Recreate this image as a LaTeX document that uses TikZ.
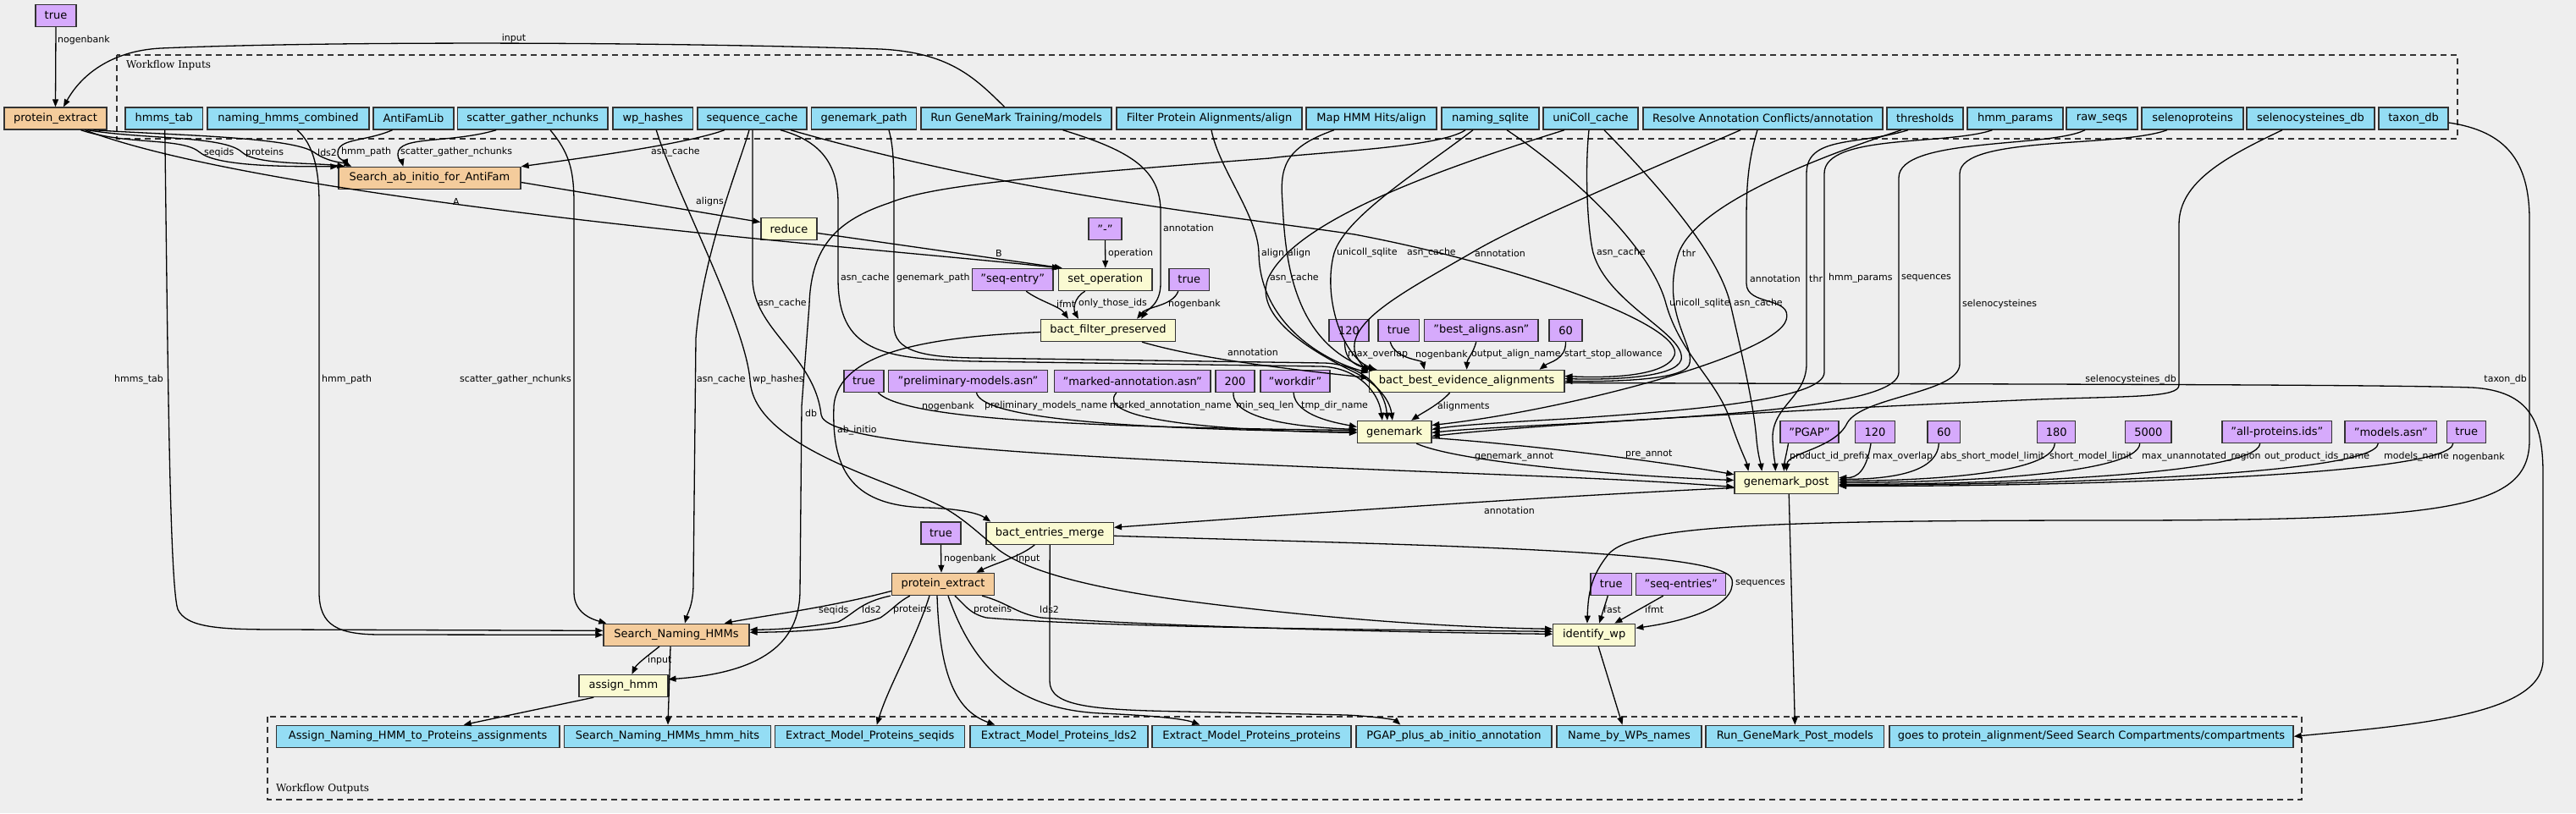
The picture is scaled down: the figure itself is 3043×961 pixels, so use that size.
\documentclass[tikz,border=0pt]{standalone}
\usepackage{fontspec}
\setmainfont{DejaVu Sans}
\newfontfamily\wfserif{DejaVu Serif}
\usetikzlibrary{arrows.meta,calc}
\definecolor{bg}{RGB}{238,238,238}
\definecolor{cin}{RGB}{148,221,244}
\definecolor{cpar}{RGB}{214,170,252}
\definecolor{cstep}{RGB}{250,250,210}
\definecolor{csub}{RGB}{244,204,156}
\definecolor{cbord}{RGB}{51,51,51}
\begin{document}
\begin{tikzpicture}[x=1pt,y=-1pt]
\tikzset{
 nbox/.style={draw=cbord, line width=1.4pt, minimum height=26pt, inner sep=0pt, font=\fontsize{13}{15}\selectfont, anchor=center},
 nin/.style={nbox, fill=cin},
 npar/.style={nbox, fill=cpar},
 nstep/.style={nbox, fill=cstep},
 nsub/.style={nbox, fill=csub},
 nout/.style={nbox, fill=cin},
 edg/.style={draw=black, line width=1.3pt, -{Triangle[length=9pt,width=7pt]}},
 lbl/.style={font=\fontsize{11}{13}\selectfont, inner sep=0pt, anchor=west},
 clus/.style={draw=cbord, line width=1.5pt, dash pattern=on 7pt off 5pt},
 clbl/.style={font=\wfserif\fontsize{12}{14}\selectfont, inner sep=0pt, anchor=west},
}
\fill[bg] (0,0) rectangle (3043,961);
\useasboundingbox (0,0) rectangle (3043,961);
% clusters
\draw[clus] (138,65) rectangle (2903,164);
\node[clbl] (cin) at (149,77) {Workflow Inputs};
\draw[clus] (316,847) rectangle (2719,945);
\node[clbl] (cout) at (326,932) {Workflow Outputs};
% input nodes
\node[npar, minimum width=48pt] (true0) at (66,18.5) {true};
\node[nsub, minimum width=121pt] (pe1) at (65.5,140) {protein\_extract};
\node[nin, minimum width=91.5pt] (in_hmms) at (193.75,140) {hmms\_tab};
\node[nin, minimum width=191pt] (in_nhc) at (340.5,140) {naming\_hmms\_combined};
\node[nin, minimum width=95pt] (in_afl) at (488.5,140) {AntiFamLib};
\node[nin, minimum width=177.5pt] (in_sgn) at (629.25,140) {scatter\_gather\_nchunks};
\node[nin, minimum width=94.5pt] (in_wph) at (771.25,140) {wp\_hashes};
\node[nin, minimum width=129pt] (in_seq) at (888.5,140) {sequence\_cache};
\node[nin, minimum width=124pt] (in_gmp) at (1020.6,140) {genemark\_path};
\node[nin, minimum width=225pt] (in_rgm) at (1200.5,140) {Run GeneMark Training/models};
\node[nin, minimum width=219pt] (in_fpa) at (1428.5,140) {Filter Protein Alignments/align};
\node[nin, minimum width=154pt] (in_map) at (1620,140) {Map HMM Hits/align};
\node[nin, minimum width=115pt] (in_nsq) at (1760.5,140) {naming\_sqlite};
\node[nin, minimum width=112pt] (in_ucc) at (1879,140) {uniColl\_cache};
\node[nin, minimum width=283pt] (in_rac) at (2082.5,140) {Resolve Annotation Conflicts/annotation};
\node[nin, minimum width=90pt] (in_thr) at (2274,140) {thresholds};
\node[nin, minimum width=113pt] (in_hmp) at (2380.5,140) {hmm\_params};
\node[nin, minimum width=84pt] (in_raw) at (2483,140) {raw\_seqs};
\node[nin, minimum width=120pt] (in_sel) at (2590,140) {selenoproteins};
\node[nin, minimum width=151pt] (in_scd) at (2729.5,140) {selenocysteines\_db};
\node[nin, minimum width=82pt] (in_tax) at (2851,140) {taxon\_db};
% steps and params
\node[nsub, minimum width=215pt] (sab) at (507.5,210.5) {Search\_ab\_initio\_for\_AntiFam};
\node[nstep, minimum width=66pt] (reduce) at (932,270.5) {reduce};
\node[npar, minimum width=39pt] (pminus) at (1305.5,270.5) {"-"};
\node[nstep, minimum width=110.5pt] (setop) at (1305.75,330.5) {set\_operation};
\node[npar, minimum width=95.5pt] (pseqentry) at (1196.25,330.5) {"seq-entry"};
\node[npar, minimum width=47.6pt] (ptrue1) at (1404.8,330.5) {true};
\node[nstep, minimum width=158.7pt] (bfp) at (1309,390.5) {bact\_filter\_preserved};
\node[npar, minimum width=47pt] (p120a) at (1593.5,390.5) {120};
\node[npar, minimum width=48.6pt] (ptrue2) at (1652.3,390.5) {true};
\node[npar, minimum width=134.4pt] (pbest) at (1749.8,390.5) {"best\_aligns.asn"};
\node[npar, minimum width=39pt] (p60a) at (1849.5,390.5) {60};
\node[npar, minimum width=47.2pt] (ptrue3) at (1020.4,450.5) {true};
\node[npar, minimum width=188pt] (pprelim) at (1143.5,450.5) {"preliminary-models.asn"};
\node[npar, minimum width=184.5pt] (pmarked) at (1337.75,450.5) {"marked-annotation.asn"};
\node[npar, minimum width=46pt] (p200) at (1459,450.5) {200};
\node[npar, minimum width=82pt] (pworkdir) at (1530,450.5) {"workdir"};
\node[nstep, minimum width=230.4pt] (bbe) at (1732.6,450.5) {bact\_best\_evidence\_alignments};
\node[nstep, minimum width=87.2pt] (gm) at (1647.2,510.5) {genemark};
\node[npar, minimum width=69pt] (ppgap) at (2137.5,510.5) {"PGAP"};
\node[npar, minimum width=46.7pt] (p120b) at (2215,510.5) {120};
\node[npar, minimum width=38.6pt] (p60b) at (2296.3,510.5) {60};
\node[npar, minimum width=45pt] (p180) at (2429.25,510.5) {180};
\node[npar, minimum width=54.4pt] (p5000) at (2537.8,510.5) {5000};
\node[npar, minimum width=129.6pt] (pallprot) at (2689.8,510.5) {"all-proteins.ids"};
\node[npar, minimum width=108.7pt] (pmodels) at (2824.3,510.5) {"models.asn"};
\node[npar, minimum width=46pt] (ptrue4) at (2913.75,510.5) {true};
\node[nstep, minimum width=122.5pt] (gmp) at (2110.25,570.5) {genemark\_post};
\node[npar, minimum width=47pt] (ptrue5) at (1111.4,630) {true};
\node[nstep, minimum width=150.3pt] (bem) at (1240.15,630.3) {bact\_entries\_merge};
\node[nsub, minimum width=121pt] (pe2) at (1114,690.5) {protein\_extract};
\node[npar, minimum width=48.6pt] (ptrue6) at (1903.3,690.5) {true};
\node[npar, minimum width=106pt] (pseqentries) at (1985.7,690.5) {"seq-entries"};
\node[nsub, minimum width=172pt] (snh) at (799,750.3) {Search\_Naming\_HMMs};
\node[nstep, minimum width=97pt] (iwp) at (1883.15,750.3) {identify\_wp};
\node[nstep, minimum width=104.8pt] (ah) at (736.4,810.5) {assign\_hmm};
% outputs
\node[nout, minimum width=334.6pt] (o1) at (493.7,870.3) {Assign\_Naming\_HMM\_to\_Proteins\_assignments};
\node[nout, minimum width=243.8pt] (o2) at (788.5,870.3) {Search\_Naming\_HMMs\_hmm\_hits};
\node[nout, minimum width=224pt] (o3) at (1027.75,870.3) {Extract\_Model\_Proteins\_seqids};
\node[nout, minimum width=210pt] (o4) at (1251,870.3) {Extract\_Model\_Proteins\_lds2};
\node[nout, minimum width=235pt] (o5) at (1478.5,870.3) {Extract\_Model\_Proteins\_proteins};
\node[nout, minimum width=231pt] (o6) at (1717.5,870.3) {PGAP\_plus\_ab\_initio\_annotation};
\node[nout, minimum width=171pt] (o7) at (1924.5,870.3) {Name\_by\_WPs\_names};
\node[nout, minimum width=210.7pt] (o8) at (2120.35,870.3) {Run\_GeneMark\_Post\_models};
\node[nout, minimum width=477pt] (o9) at (2470.5,870.3) {goes to protein\_alignment/Seed Search Compartments/compartments};
% ---- edges ----
\draw[edg] (true0.south) -- (pe1.north);
\node[lbl] (l1) at (68,47) {nogenbank};
\draw[edg] ($(in_rgm.north)+(-14,0)$) .. controls (1150,90) and (1120,62) .. (1040,58) .. controls (800,50) and (400,48) .. (190,57) .. controls (130,60) and (95,90) .. ($(pe1.north)+(9.5,0)$);
\node[lbl,anchor=center] (l2) at (607,45) {input};
% pe1 -> sab
\draw[edg] ($(pe1.south)+(30,0)$) .. controls (150,172) and (215,162) .. (236,180) .. controls (255,196) and (330,197) .. (sab.north west);
\node[lbl] (l3) at (241,180) {seqids};
\draw[edg] ($(pe1.south)+(38,0)$) .. controls (170,165) and (265,160) .. (286,180) .. controls (302,195) and (370,192) .. ($(sab.north west)+(8,0)$);
\node[lbl] (l4) at (290,180) {proteins};
\draw[edg] ($(pe1.south)+(45,0)$) .. controls (210,160) and (345,162) .. (371,180) .. controls (388,192) and (405,192) .. ($(sab.north west)+(16,0)$);
\node[lbl] (l5) at (375,180) {lds2};
\draw[edg] ($(in_afl.south)+(-25,0)$) .. controls (430,168) and (398,163) .. (399,182) .. controls (400,190) and (408,190) .. ($(sab.north west)+(12,0)$);
\node[lbl] (l6) at (403,180) {hmm\_path};
\draw[edg] ($(in_sgn.south)+(-43,0)$) .. controls (530,170) and (470,160) .. (470,182) .. controls (470,190) and (475,192) .. ($(sab.north west)+(77,0)$);
\node[lbl] (l7) at (473,180) {scatter\_gather\_nchunks};
\draw[edg] ($(in_seq.south)+(-32.5,0)$) .. controls (810,170) and (700,185) .. (sab.north east);
\node[lbl] (l8) at (769,180) {asn\_cache};
% A, aligns, B, operation
\draw[edg] ($(pe1.south)+(35,0)$) .. controls (200,192) and (400,222) .. (500,236) .. controls (800,278) and (1100,300) .. ($(setop.north west)+(2,0)$);
\node[lbl] (l9) at (535,238) {A};
\draw[edg] ($(sab.east)+(0,5)$) -- ($(reduce.west)+(0,-8)$);
\node[lbl] (l10) at (822,238) {aligns};
\draw[edg] ($(reduce.east)+(0,5)$) -- ($(setop.north west)+(5,0)$);
\node[lbl] (l11) at (1176,299) {B};
\draw[edg] (pminus.south) -- (setop.north);
\node[lbl] (l12) at (1309,299) {operation};
% bfp inputs
\draw[edg] ($(pseqentry.south)+(16,0)$) .. controls (1228,356) and (1252,362) .. ($(bfp.north west)+(33,0)$);
\node[lbl] (l13) at (1248,359) {ifmt};
\draw[edg] ($(setop.south)+(-24,0)$) .. controls (1268,352) and (1268,366) .. ($(bfp.north west)+(45,0)$);
\node[lbl] (l14) at (1274,359) {only\_those\_ids};
\draw[edg] ($(ptrue1.south)+(-13,0)$) .. controls (1385,362) and (1355,362) .. ($(bfp.north east)+(-46,0)$);
\node[lbl] (l15) at (1380,359) {nogenbank};
\draw[edg] ($(in_rgm.south)+(55,0)$) .. controls (1335,178) and (1371,200) .. (1371,250) -- (1371,335) .. controls (1371,360) and (1355,366) .. ($(bfp.north east)+(-41,0)$);
\node[lbl] (l16) at (1374,269) {annotation};
% bfp outputs
\draw[edg] ($(bfp.south east)+(-40,0)$) .. controls (1420,425) and (1530,437) .. ($(bbe.west)+(0,-4)$);
\node[lbl] (l17) at (1450,416) {annotation};
\draw[edg] ($(bfp.west)+(0,2)$) .. controls (1100,398) and (990,415) .. (985,480) .. controls (982,560) and (1010,598) .. (1095,600) .. controls (1130,601) and (1155,606) .. ($(bem.north west)+(6,0)$);
\node[lbl] (l18) at (989,509) {ab\_initio};
% bbe inputs
\draw[edg] ($(in_fpa.south)+(2.5,0)$) .. controls (1440,200) and (1486,255) .. (1487,299) .. controls (1488,380) and (1560,425) .. ($(bbe.west)+(0,-10)$);
\node[lbl] (l19) at (1490,299) {align};
\draw[edg] ($(in_map.south)+(-44,0)$) .. controls (1515,175) and (1512,200) .. (1515,240) .. controls (1518,300) and (1525,400) .. ($(bbe.north west)+(2,0)$);
\node[lbl] (l20) at (1521,299) {align};
\draw[edg] ($(in_nsq.south)+(-20.5,0)$) .. controls (1680,200) and (1590,255) .. (1576,299) .. controls (1562,350) and (1585,420) .. ($(bbe.north west)+(8,0)$);
\node[lbl] (l21) at (1579,299) {unicoll\_sqlite};
\draw[edg] ($(in_seq.south)+(45.5,0)$) .. controls (1200,230) and (1450,255) .. (1600,277) .. controls (1800,315) and (1990,385) .. (1978,420) .. controls (1968,445) and (1900,447) .. ($(bbe.east)+(0,-6)$);
\node[lbl] (l22) at (1662,299) {asn\_cache};
\draw[edg] ($(in_rac.south)+(-26.5,0)$) .. controls (1950,200) and (1800,262) .. (1738,299) .. controls (1650,350) and (1570,390) .. ($(bbe.north west)+(0,3)$);
\node[lbl] (l23) at (1742,299) {annotation};
\draw[edg] ($(in_ucc.south)+(-2,0)$) .. controls (1872,200) and (1875,270) .. (1882,299) .. controls (1900,360) and (1992,395) .. (1986,425) .. controls (1980,447) and (1900,449) .. ($(bbe.east)+(0,-3)$);
\node[lbl] (l24) at (1886,299) {asn\_cache};
\draw[edg] ($(in_thr.south)+(-28,0)$) .. controls (2150,185) and (2005,240) .. (1983,299) .. controls (1960,370) and (2005,410) .. (1995,432) .. controls (1985,450) and (1900,451) .. (bbe.east);
\node[lbl] (l25) at (1987,299) {thr};
\draw[edg] ($(p120a.south)+(-5,0)$) .. controls (1588,428) and (1605,434) .. ($(bbe.north west)+(10,0)$);
\node[lbl] (l26) at (1592,419) {max\_overlap};
\draw[edg] ($(ptrue2.south)+(-10,0)$) .. controls (1648,425) and (1680,425) .. ($(bbe.north west)+(66,0)$);
\node[lbl] (l27) at (1672,419) {nogenbank};
\draw[edg] ($(pbest.south)+(-6,0)$) .. controls (1740,418) and (1733,425) .. (bbe.north);
\node[lbl] (l28) at (1738,419) {output\_align\_name};
\draw[edg] (p60a.south) .. controls (1850,425) and (1830,428) .. ($(bbe.north east)+(-30,0)$);
\node[lbl] (l29) at (1848,419) {start\_stop\_allowance};
% bbe outputs
\draw[edg] ($(bbe.south)+(-20,0)$) .. controls (1700,478) and (1680,488) .. ($(gm.north)+(20,0)$);
\node[lbl] (l30) at (1698,480) {alignments};
\draw[edg] ($(bbe.east)+(0,2)$) .. controls (2300,454) and (2800,454) .. (2920,458) .. controls (2990,462) and (3004,500) .. (3004,560) -- (3004,780) .. controls (3004,845) and (2850,857) .. (o9.east);
% genemark inputs
\draw[edg] ($(in_seq.south)+(33.5,0)$) .. controls (975,168) and (990,200) .. (990,240) -- (990,329) .. controls (990,415) and (1040,424) .. (1150,427) -- (1560,433) .. controls (1600,434) and (1628,460) .. ($(gm.north west)+(30,0)$);
\node[lbl] (l31) at (993,329) {asn\_cache};
\draw[edg] ($(in_gmp.south)+(29.4,0)$) .. controls (1056,175) and (1056,200) .. (1056,240) -- (1056,385) .. controls (1056,415) and (1090,422) .. (1150,423) -- (1565,429) .. controls (1610,431) and (1636,460) .. ($(gm.north west)+(36,0)$);
\node[lbl] (l32) at (1059,329) {genemark\_path};
\draw[edg] ($(in_ucc.south)+(-31,0)$) .. controls (1700,200) and (1530,260) .. (1498,329) .. controls (1478,380) and (1570,425) .. (1600,440) .. controls (1630,455) and (1642,475) .. ($(gm.north west)+(42,0)$);
\node[lbl] (l33) at (1500,329) {asn\_cache};
\draw[edg] ($(ptrue3.south)+(17,0)$) .. controls (1070,497) and (1300,505) .. ($(gm.west)+(0,-2)$);
\node[lbl] (l34) at (1089,480) {nogenbank};
\draw[edg] ($(pprelim.south)+(10,0)$) .. controls (1160,492) and (1300,507) .. (gm.west);
\node[lbl] (l35) at (1163,480) {preliminary\_models\_name};
\draw[edg] ($(pmarked.south)+(-19,0)$) .. controls (1295,492) and (1400,508) .. ($(gm.west)+(0,1)$);
\node[lbl] (l36) at (1311,480) {marked\_annotation\_name};
\draw[edg] ($(p200.south)+(-2,0)$) .. controls (1455,497) and (1540,505) .. ($(gm.west)+(0,-3)$);
\node[lbl] (l37) at (1460,480) {min\_seq\_len};
\draw[edg] ($(pworkdir.south)+(-2,0)$) .. controls (1530,492) and (1580,500) .. ($(gm.west)+(0,-6)$);
\node[lbl] (l38) at (1537,480) {tmp\_dir\_name};
\draw[edg] ($(in_rac.south)+(-6.5,0)$) .. controls (2065,190) and (2063,220) .. (2063,260) -- (2063,335) .. controls (2063,362) and (2118,350) .. (2110,378) .. controls (2098,420) and (1850,485) .. ($(gm.east)+(0,-8)$);
\node[lbl] (l39) at (2067,329) {annotation};
\draw[edg] ($(in_hmp.south)+(-27,0)$) .. controls (2300,172) and (2155,158) .. (2155,205) -- (2155,440) .. controls (2155,472) and (2000,485) .. (1850,495) .. controls (1760,500) and (1720,503) .. ($(gm.east)+(0,-3)$);
\node[lbl] (l40) at (2160,329) {hmm\_params};
\draw[edg] ($(in_raw.south)+(-20,0)$) .. controls (2420,175) and (2243,162) .. (2243,210) -- (2243,440) .. controls (2243,478) and (2050,490) .. (1870,500) .. controls (1770,505) and (1720,508) .. ($(gm.east)+(0,1)$);
\node[lbl] (l41) at (2246,329) {sequences};
\draw[edg] ($(in_scd.south)+(-33.5,0)$) .. controls (2630,185) and (2574,215) .. (2574,265) -- (2574,455) .. controls (2574,470) and (2520,468) .. (2408,472) .. controls (2100,485) and (1800,503) .. ($(gm.east)+(0,5)$);
\node[lbl,anchor=east] (l42) at (2571,449) {selenocysteines\_db};
% genemark_post inputs
\draw[edg] ($(in_thr.south)+(-20,0)$) .. controls (2195,172) and (2134,160) .. (2134,205) -- (2134,430) .. controls (2134,470) and (2092,480) .. (2094,520) .. controls (2095,540) and (2097,548) .. ($(gmp.north west)+(49,0)$);
\node[lbl] (l43) at (2137,329) {thr};
\draw[edg] ($(in_nsq.south)+(19.5,0)$) .. controls (1850,200) and (1950,290) .. (1968,359) .. controls (1985,420) and (2030,450) .. (2045,500) .. controls (2055,530) and (2063,545) .. ($(gmp.north west)+(17,0)$);
\node[lbl] (l44) at (1972,359) {unicoll\_sqlite};
\draw[edg] ($(in_ucc.south)+(16,0)$) .. controls (1960,220) and (2030,300) .. (2044,359) .. controls (2058,420) and (2072,480) .. (2075,520) .. controls (2077,540) and (2080,548) .. ($(gmp.north west)+(33,0)$);
\node[lbl] (l45) at (2048,359) {asn\_cache};
\draw[edg] ($(in_sel.south)+(-30,0)$) .. controls (2500,175) and (2316,160) .. (2315,205) -- (2315,430) .. controls (2315,465) and (2200,468) .. (2182,500) .. controls (2168,530) and (2112,535) .. (gmp.north);
\node[lbl] (l46) at (2318,359) {selenocysteines};
\draw[edg] ($(gm.south)+(26,0)$) .. controls (1720,545) and (1900,562) .. ($(gmp.west)+(0,-3)$);
\node[lbl] (l47) at (1742,540) {genemark\_annot};
\draw[edg] ($(gm.east)+(0,7)$) .. controls (1800,525) and (1960,545) .. ($(gmp.north west)+(0,4)$);
\node[lbl] (l48) at (1920,537) {pre\_annot};
\draw[edg] ($(in_seq.south)+(0.5,0)$) -- (889,330) .. controls (890,390) and (962,420) .. (970,490) .. controls (975,530) and (1300,542) .. (1800,562) .. controls (1950,568) and (2000,572) .. ($(gmp.west)+(0,5)$);
\node[lbl] (l49) at (895,359) {asn\_cache};
\draw[edg] ($(ppgap.south)+(-25,0)$) .. controls (2110,538) and (2108,545) .. ($(gmp.north)+(-3,0)$);
\node[lbl] (l50) at (2114,540) {product\_id\_prefix};
\draw[edg] ($(p120b.south)+(-5,0)$) .. controls (2205,555) and (2195,565) .. ($(gmp.east)+(0,-6)$);
\node[lbl] (l51) at (2212,540) {max\_overlap};
\draw[edg] ($(p60b.south)+(-6,0)$) .. controls (2288,560) and (2230,566) .. ($(gmp.east)+(0,-4)$);
\node[lbl] (l52) at (2292,540) {abs\_short\_model\_limit};
\draw[edg] ($(p180.south)+(-2,0)$) .. controls (2425,562) and (2260,568) .. ($(gmp.east)+(0,-2)$);
\node[lbl] (l53) at (2421,540) {short\_model\_limit};
\draw[edg] ($(p5000.south)+(-10,0)$) .. controls (2525,562) and (2300,570) .. (gmp.east);
\node[lbl] (l54) at (2530,540) {max\_unannotated\_region};
\draw[edg] ($(pallprot.south)+(-20,0)$) .. controls (2665,562) and (2350,572) .. ($(gmp.east)+(0,2)$);
\node[lbl] (l55) at (2675,540) {out\_product\_ids\_name};
\draw[edg] ($(pmodels.south)+(-15,0)$) .. controls (2805,562) and (2400,573) .. ($(gmp.east)+(0,3)$);
\node[lbl] (l56) at (2816,540) {models\_name};
\draw[edg] ($(ptrue4.south)+(-16,0)$) .. controls (2895,562) and (2450,575) .. ($(gmp.east)+(0,4)$);
\node[lbl] (l57) at (2897,540) {nogenbank};
% genemark_post outputs
\draw[edg] ($(gmp.west)+(0,6)$) .. controls (1800,588) and (1500,610) .. ($(bem.east)+(0,-7)$);
\node[lbl] (l58) at (1753,603) {annotation};
\draw[edg] ($(gmp.south)+(3,0)$) -- (o8.north);
% protein_extract 2
\draw[edg] (ptrue5.south) -- ($(pe2.north)+(-2,0)$);
\node[lbl] (l59) at (1115,660) {nogenbank};
\draw[edg] ($(bem.south)+(-18,0)$) .. controls (1205,658) and (1175,666) .. ($(pe2.north east)+(-22,0)$);
\node[lbl] (l60) at (1200,660) {input};
% bem outputs
\draw[edg] ($(bem.east)+(0,3)$) .. controls (1700,645) and (2040,650) .. (2046,685) .. controls (2052,718) and (1985,735) .. ($(iwp.east)+(0,-8)$);
\node[lbl] (l61) at (2050,690) {sequences};
\draw[edg] (bem.south) -- (1240,805) .. controls (1240,835) and (1290,839) .. (1400,841) -- (1590,845) .. controls (1630,847) and (1648,851) .. ($(o6.north west)+(53,0)$);
% pe2 outputs
\draw[edg] ($(pe2.west)+(0,8)$) .. controls (980,718) and (900,728) .. ($(snh.north east)+(-30,0)$);
\node[lbl] (l62) at (967,721) {seqids};
\draw[edg] ($(pe2.south west)+(-1,0)$) .. controls (1015,712) and (1010,725) .. (990,735) .. controls (950,742) and (920,744) .. ($(snh.east)+(0,-6)$);
\node[lbl] (l63) at (1018,720) {lds2};
\draw[edg] ($(pe2.south west)+(22,0)$) .. controls (1060,712) and (1055,720) .. (1040,730) .. controls (1000,745) and (930,747) .. ($(snh.east)+(0,-3)$);
\node[lbl] (l64) at (1055,720) {proteins};
\draw[edg] ($(pe2.south)+(14,0)$) .. controls (1140,715) and (1145,725) .. (1165,730) .. controls (1300,742) and (1700,745) .. ($(iwp.west)+(0,-4)$);
\node[lbl] (l65) at (1150,720) {proteins};
\draw[edg] ($(pe2.south east)+(-15,0)$) .. controls (1190,712) and (1200,725) .. (1230,730) .. controls (1400,742) and (1700,748) .. ($(iwp.west)+(0,-1)$);
\node[lbl] (l66) at (1228,720) {lds2};
\draw[edg] ($(pe2.south)+(-16,0)$) .. controls (1080,760) and (1050,810) .. ($(o3.north)+(8,0)$);
\draw[edg] ($(pe2.south)+(-7,0)$) .. controls (1110,800) and (1130,840) .. ($(o4.north west)+(30,0)$);
\draw[edg] ($(pe2.south)+(6,0)$) .. controls (1150,790) and (1200,838) .. (1300,843) .. controls (1370,846) and (1400,850) .. ($(o5.north west)+(57,0)$);
% identify_wp inputs
\draw[edg] ($(ptrue6.south)+(-4,0)$) -- ($(iwp.north)+(6,0)$);
\node[lbl] (l67) at (1894,720) {fast};
\draw[edg] ($(pseqentries.south)+(-21,0)$) -- ($(iwp.north east)+(-25,0)$);
\node[lbl] (l68) at (1943,720) {ifmt};
\draw[edg] ($(in_tax.east)+(0,5)$) .. controls (2960,155) and (2988,190) .. (2988,260) -- (2988,520) .. controls (2988,600) and (2900,615) .. (2500,615) .. controls (2100,615) and (1930,620) .. (1900,655) .. controls (1880,680) and (1876,700) .. ($(iwp.north west)+(41,0)$);
\node[lbl,anchor=east] (l69) at (2985,449) {taxon\_db};
\draw[edg] ($(in_wph.south)+(4,0)$) .. controls (795,220) and (880,380) .. (886,449) .. controls (890,530) and (1060,570) .. (1115,600) .. controls (1140,614) and (1158,632) .. (1180,650) .. controls (1215,676) and (1290,695) .. (1400,710) .. controls (1600,736) and (1750,742) .. ($(iwp.west)+(0,-7)$);
\node[lbl] (l70) at (889,449) {wp\_hashes};
\draw[edg] ($(iwp.south)+(5,0)$) -- ($(o7.north)+(-8,0)$);
% Search_Naming_HMMs inputs
\draw[edg] ($(in_hmms.south)+(1,0)$) .. controls (198,400) and (200,690) .. (210,720) .. controls (220,742) and (260,744) .. (330,744) -- ($(snh.west)+(0,-5)$);
\node[lbl,anchor=east] (l71) at (193,449) {hmms\_tab};
\draw[edg] ($(in_nhc.south)+(10.5,0)$) .. controls (370,170) and (377,200) .. (377,240) -- (377,700) .. controls (377,740) and (400,750) .. (450,750) -- (snh.west);
\node[lbl] (l72) at (380,449) {hmm\_path};
\draw[edg] ($(in_sgn.south)+(20.75,0)$) .. controls (672,180) and (678,200) .. (678,240) -- (678,700) .. controls (678,725) and (700,732) .. ($(snh.north west)+(4,0)$);
\node[lbl,anchor=east] (l73) at (675,449) {scatter\_gather\_nchunks};
\draw[edg] ($(in_seq.south)+(-3.5,0)$) .. controls (875,190) and (830,300) .. (822,400) -- (819,690) .. controls (819,715) and (812,725) .. ($(snh.north)+(10,0)$);
\node[lbl] (l74) at (823,449) {asn\_cache};
% assign_hmm
\draw[edg] ($(snh.south)+(-20,0)$) .. controls (765,775) and (752,785) .. ($(ah.north)+(10,0)$);
\node[lbl] (l75) at (765,780) {input};
\draw[edg] ($(in_nsq.south)+(-29.5,0)$) .. controls (1700,175) and (1550,180) .. (1500,187) .. controls (1200,210) and (1100,220) .. (1050,240) .. controls (990,260) and (958,290) .. (956,360) -- (947,480) -- (945,700) .. controls (944,760) and (900,795) .. ($(ah.north east)+(0,6)$);
\node[lbl] (l76) at (951,488) {db};
% outputs
\draw[edg] ($(ah.south west)+(18,0)$) -- ($(o1.north)+(54,0)$);
\draw[edg] ($(snh.south)+(-7,0)$) -- ($(o2.north)+(0.5,0)$);
\end{tikzpicture}
\end{document}
